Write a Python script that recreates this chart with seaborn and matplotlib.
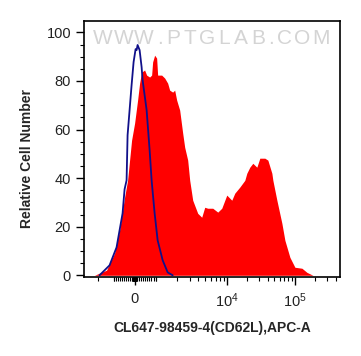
import numpy as np
import matplotlib
matplotlib.use("Agg")
import matplotlib.pyplot as plt
import seaborn as sns

# red histogram (CD62L stained), x in display channel units (0-256), y in % of max
red_x = [11, 23, 31, 36, 41, 44, 48, 51, 54, 56, 58, 61, 63, 66, 68, 69, 71, 73, 74, 78,
         81, 84, 86, 89, 91, 93, 96, 99, 101, 104, 106, 109, 114, 118, 121, 124, 129, 134,
         138, 143, 148, 151, 156, 161, 163, 166, 169, 173, 176, 181, 184, 188, 189, 193,
         198, 201, 206, 211, 218, 223, 229]
red_y = [0, 2.1, 9.1, 18.5, 32.1, 39.1, 55.6, 62.6, 72.1, 79.1, 83.6, 84.5, 82.4, 81.6,
         82.4, 87.8, 90.6, 89.4, 82.4, 82.4, 81.2, 79.1, 76.2, 75.4, 76.2, 72.1, 68.0, 58.5,
         52.7, 47.4, 39.1, 30.9, 25.5, 23.9, 28.0, 27.6, 27.6, 26.0, 27.6, 33.0, 30.9, 33.8,
         36.3, 39.1, 42.0, 44.5, 46.1, 44.5, 48.2, 48.2, 47.4, 42.0, 39.1, 30.9, 21.4, 14.4,
         7.4, 3.3, 2.9, 1.2, 0]

# blue isotype control
blue_x = [16, 26, 33, 39, 41, 43, 44, 48, 50, 52, 53, 54, 56, 58, 59, 63, 66, 68, 71,
          74, 79, 84, 89]
blue_y = [0, 4.1, 11.5, 25.5, 35.4, 39.1, 57.7, 78.3, 87.8, 93.1, 92.7, 94.8, 92.7, 85.7,
          80.3, 68.0, 51.5, 39.0, 25.5, 14.4, 6.2, 1.2, 0]


def chan(v):
    # rough biexponential mapping: linear around zero, log above 1000
    if abs(v) <= 1000:
        return 51 + v * 21 / 1000
    if v > 0:
        return float(np.interp(np.log10(v), [3, 4, 5, 6], [72, 143, 211, 279]))
    return 30 - (np.log10(-v) - 3) * 53


sns.set_style("ticks")
plt.rcParams['font.family'] = ['Liberation Sans', 'DejaVu Sans']
plt.rcParams['mathtext.fontset'] = 'custom'
plt.rcParams['mathtext.rm'] = 'Liberation Sans'
plt.rcParams['mathtext.it'] = 'Liberation Sans'

fig = plt.figure(figsize=(3.61, 3.56), dpi=100)
ax = fig.add_axes([83.5 / 361, 1 - 276.5 / 356, (340 - 83.5) / 361, (276.5 - 20.7) / 356])

ax.fill_between(red_x, red_y, 0, color='#ff0000', linewidth=0, zorder=2)
sns.lineplot(x=blue_x, y=blue_y, ax=ax, color='#10108a', linewidth=1.3, zorder=3,
             estimator=None, sort=False)

ax.set_xlim(0, 256)
ax.set_ylim(-0.5, 104.8)

# x ticks
major_vals = [0, 1e4, 1e5]
ax.set_xticks([chan(v) for v in major_vals])
ax.set_xticklabels(['0', r'$\mathregular{10^4}$', r'$\mathregular{10^5}$'], fontsize=11)
minor_vals = [-2000, -1000, 1000]
minor_vals += list(range(-1000, 1001, 100))
minor_vals += list(range(-100, 101, 10))
for d in [1e3, 1e4, 1e5]:
    minor_vals += [m * d for m in range(2, 10)]
minor_vals = [v for v in minor_vals if 0 <= chan(v) <= 256 and v not in major_vals]
ax.set_xticks([chan(v) for v in minor_vals], minor=True)

# y ticks
ax.set_yticks([0, 20, 40, 60, 80, 100])
ax.set_yticks(range(0, 101, 5), minor=True)

ax.tick_params(axis='both', which='major', length=6, width=1, color='black',
               labelsize=10.5, labelcolor='#222222')
ax.tick_params(axis='x', which='major', pad=5)
ax.tick_params(axis='y', which='major', pad=3)
ax.tick_params(axis='both', which='minor', length=3, width=0.8, color='black')
for s in ax.spines.values():
    s.set_linewidth(1.2)
    s.set_color('black')

ax.set_xlabel('')
ax.set_ylabel('')

fig.text(212 / 361, 1 - 328 / 356, 'CL647-98459-4(CD62L),APC-A', ha='center', va='center',
         fontsize=10, fontweight='bold')
fig.text(27 / 361, 1 - 158 / 356, 'Relative Cell Number', ha='center', va='center',
         rotation=90, fontsize=10, fontweight='bold')

# watermark, letters spread out by their rough widths
wm = 'WWW.PTGLAB.COM'
w = np.array([0.95 if c in 'WM' else 0.3 if c == '.' else 0.72 for c in wm]) + 0.32
cum = np.cumsum(w) - w / 2
xs = 0.035 + cum / cum[-1] * (0.965 - 0.035) * (cum[-1] / (cum[-1] + w[-1] / 2))
for ch, xx in zip(wm, xs):
    ax.text(xx, 0.93, ch, transform=ax.transAxes, ha='center', va='center',
            fontsize=15, color='#d4d4d4', zorder=1)

fig.savefig('out.png', dpi=100)
